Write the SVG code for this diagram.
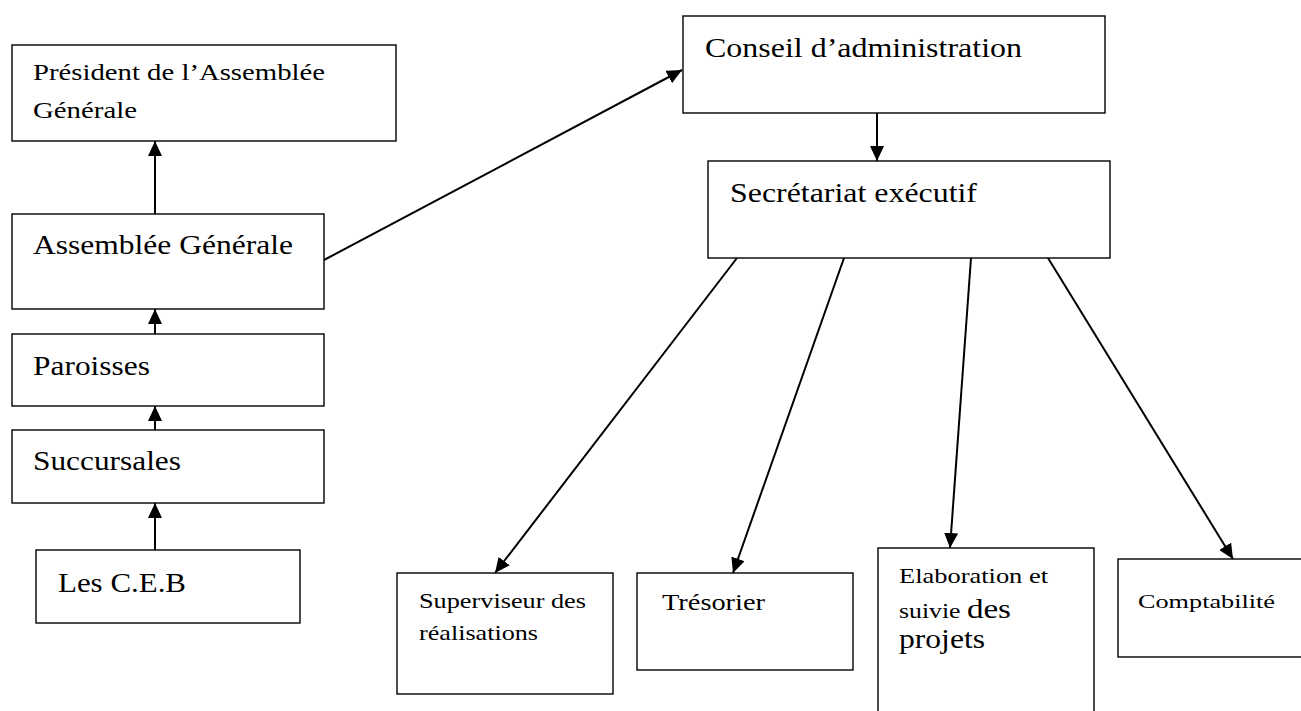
<svg xmlns="http://www.w3.org/2000/svg" width="1301" height="711" viewBox="0 0 1301 711">
<style>
.box{fill:#fff;stroke:#000;stroke-width:1.4}
.t{font-family:"Liberation Serif","Times New Roman",serif;fill:#000}
.c{stroke:#000;stroke-width:2;fill:none;marker-end:url(#ah)}
</style>
<defs>
<marker id="ah" markerUnits="userSpaceOnUse" markerWidth="15" markerHeight="14" refX="15" refY="7" orient="auto">
<path d="M0,0 L15,7 L0,14 Z" fill="#000"/>
</marker>
</defs>
<rect width="1301" height="711" fill="#fff"/>
<g id="president">
<rect class="box" x="12" y="45" width="384" height="96"/>
<text class="t" x="33" y="80" font-size="23" textLength="292" lengthAdjust="spacingAndGlyphs">Président de l’Assemblée</text>
<text class="t" x="33" y="118" font-size="23" textLength="104" lengthAdjust="spacingAndGlyphs">Générale</text>
</g>
<g id="assemblee">
<rect class="box" x="12" y="214" width="312" height="95"/>
<text class="t" x="33" y="254" font-size="28" textLength="260" lengthAdjust="spacingAndGlyphs">Assemblée Générale</text>
</g>
<g id="paroisses">
<rect class="box" x="12" y="334" width="312" height="72"/>
<text class="t" x="33" y="375" font-size="27" textLength="117" lengthAdjust="spacingAndGlyphs">Paroisses</text>
</g>
<g id="succursales">
<rect class="box" x="12" y="430" width="312" height="73"/>
<text class="t" x="33" y="470" font-size="27" textLength="148" lengthAdjust="spacingAndGlyphs">Succursales</text>
</g>
<g id="ceb">
<rect class="box" x="36" y="550" width="264" height="73"/>
<text class="t" x="58" y="592" font-size="27" textLength="128" lengthAdjust="spacingAndGlyphs">Les C.E.B</text>
</g>
<g id="conseil">
<rect class="box" x="683" y="16" width="422" height="97"/>
<text class="t" x="705" y="57" font-size="27" textLength="317" lengthAdjust="spacingAndGlyphs">Conseil d’administration</text>
</g>
<g id="secretariat">
<rect class="box" x="708" y="161" width="402" height="97"/>
<text class="t" x="730" y="202" font-size="27" textLength="247" lengthAdjust="spacingAndGlyphs">Secrétariat exécutif</text>
</g>
<g id="superviseur">
<rect class="box" x="397" y="573" width="216" height="121"/>
<text class="t" x="419" y="608" font-size="21" textLength="167" lengthAdjust="spacingAndGlyphs">Superviseur des</text>
<text class="t" x="419" y="640" font-size="21" textLength="119" lengthAdjust="spacingAndGlyphs">réalisations</text>
</g>
<g id="tresorier">
<rect class="box" x="637" y="573" width="216" height="97"/>
<text class="t" x="662" y="610" font-size="24" textLength="103" lengthAdjust="spacingAndGlyphs">Trésorier</text>
</g>
<g id="elaboration">
<rect class="box" x="878" y="548" width="216" height="170"/>
<text class="t" x="899" y="583" font-size="21" textLength="149" lengthAdjust="spacingAndGlyphs">Elaboration et</text>
<text class="t" x="899" y="618" font-size="21" textLength="112" lengthAdjust="spacingAndGlyphs">suivie <tspan font-size="27">des</tspan></text>
<text class="t" x="899" y="648" font-size="28" textLength="86" lengthAdjust="spacingAndGlyphs">projets</text>
</g>
<g id="comptabilite">
<rect class="box" x="1118" y="559" width="190" height="98"/>
<text class="t" x="1138" y="608" font-size="19" textLength="137" lengthAdjust="spacingAndGlyphs">Comptabilité</text>
</g>
<g id="connectors">
<line class="c" x1="155" y1="214" x2="155" y2="141"/>
<line class="c" x1="155" y1="334" x2="155" y2="309"/>
<line class="c" x1="155" y1="430" x2="155" y2="406"/>
<line class="c" x1="155" y1="550" x2="155" y2="503"/>
<line class="c" x1="324" y1="260" x2="682" y2="70"/>
<line class="c" x1="877" y1="113" x2="877" y2="161"/>
<line class="c" x1="737" y1="258" x2="495" y2="573"/>
<line class="c" x1="844" y1="258" x2="733" y2="573"/>
<line class="c" x1="971" y1="258" x2="950" y2="548"/>
<line class="c" x1="1048" y1="258" x2="1233" y2="559"/>
</g>
</svg>
